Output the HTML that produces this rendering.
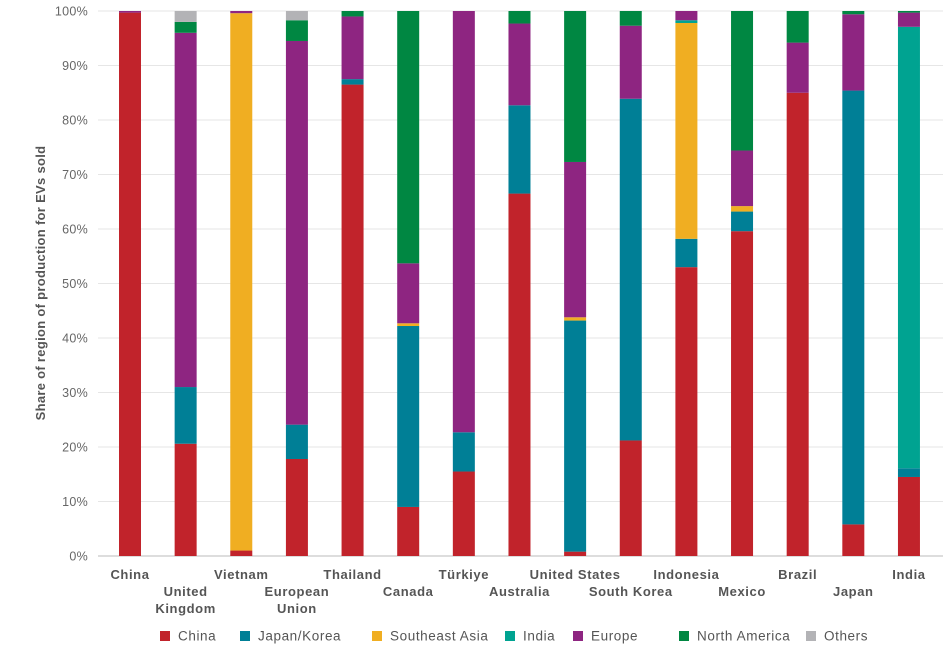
<!DOCTYPE html>
<html><head><meta charset="utf-8"><style>
body{margin:0;background:#fff;}
svg text{font-family:"Liberation Sans",sans-serif;}
</style></head><body>
<svg id="chart" width="951" height="657" xmlns="http://www.w3.org/2000/svg"></svg>
<script>
const categories=["China","United Kingdom","Vietnam","European Union","Thailand","Canada","Türkiye","Australia","United States","South Korea","Indonesia","Mexico","Brazil","Japan","India"];
const seriesNames=["China","Japan/Korea","Southeast Asia","India","Europe","North America","Others"];
const seriesColors=["#c1232b","#007f96","#f0ae22","#00a391","#8e2581","#008742","#b3b3b6"];
const sChina=[99.7,20.6,1,17.8,86.5,9,15.5,66.5,0.8,21.2,53,59.6,85,5.8,14.5];
const sJapanKorea=[0,10.4,0,6.3,1,33.2,7.2,16.2,42.4,62.7,5.2,3.6,0,79.6,1.6];
const sSEAsia=[0,0,98.6,0,0,0.5,0,0,0.6,0,39.6,1,0,0,0];
const sIndia=[0,0,0,0,0,0,0,0,0,0,0.5,0,0,0,81];
const sEurope=[0.3,65,0.4,70.4,11.5,11,77.3,15,28.5,13.4,1.7,10.2,9.2,14,2.6];
const sNorthAmerica=[0,2,0,3.8,1,46.3,0,2.3,27.7,2.7,0,25.6,5.8,0.6,0.3];
const sOthers=[0,2,0,1.7,0,0,0,0,0,0,0,0,0,0,0];
const yTicks=[0,10,20,30,40,50,60,70,80,90,100];
const series=[sChina,sJapanKorea,sSEAsia,sIndia,sEurope,sNorthAmerica,sOthers];
const svg=document.getElementById('chart');
const NS="http://www.w3.org/2000/svg";
const plotL=98,plotR=943,y0=556,y100=11;
const y=v=>y0-(y0-y100)*v/100;
const x=i=>130+i*55.64;
const bw=22;
function mk(t,a){const e=document.createElementNS(NS,t);for(const k in a)e.setAttribute(k,a[k]);svg.appendChild(e);return e;}
yTicks.forEach(t=>{
  const g=mk('line',{x1:plotL,x2:plotR,y1:y(t),y2:y(t),stroke:t===0?'#bbb':'#e6e6e6','stroke-width':1});
  
  
  const l=mk('text',{x:88,y:y(t)+4.5,'text-anchor':'end','font-size':12.5,fill:'#666','letter-spacing':0.3});
  l.textContent=t+'%';
  
  
});
const yt=mk('text',{x:0,y:0,transform:'translate(45,283) rotate(-90)','text-anchor':'middle','font-size':13,'font-weight':'bold',fill:'#555','letter-spacing':0.3});
yt.textContent='Share of region of production for EVs sold';


categories.forEach((c,i)=>{
  let acc=0;
  series.forEach((s,k)=>{
    const v=s[i]; if(v<=0){return;}
    const r=mk('rect',{x:x(i)-bw/2,y:y(acc+v),width:bw,height:y(acc)-y(acc+v),fill:seriesColors[k]});
    
    
    acc+=v;
  });
  const row=i%2===0?574:591;
  const words=(c==='United Kingdom'||c==='European Union')?c.split(' '):[c];
  words.forEach((w,j)=>{
    const t=mk('text',{x:x(i),y:row+5+j*17,'text-anchor':'middle','font-size':13,'font-weight':'bold',fill:'#555','letter-spacing':0.6});
    t.textContent=w;
    
    
  });
});
const lx=[160,240,372,505,573,679,806];
seriesNames.forEach((n,k)=>{
  const r=mk('rect',{x:lx[k],y:631,width:10,height:10,fill:seriesColors[k]});
  
  
  const t=mk('text',{x:lx[k]+18,y:640.5,'font-size':13.5,fill:'#555','letter-spacing':0.6});
  t.textContent=n;
  
  
});
</script>
</body></html>
